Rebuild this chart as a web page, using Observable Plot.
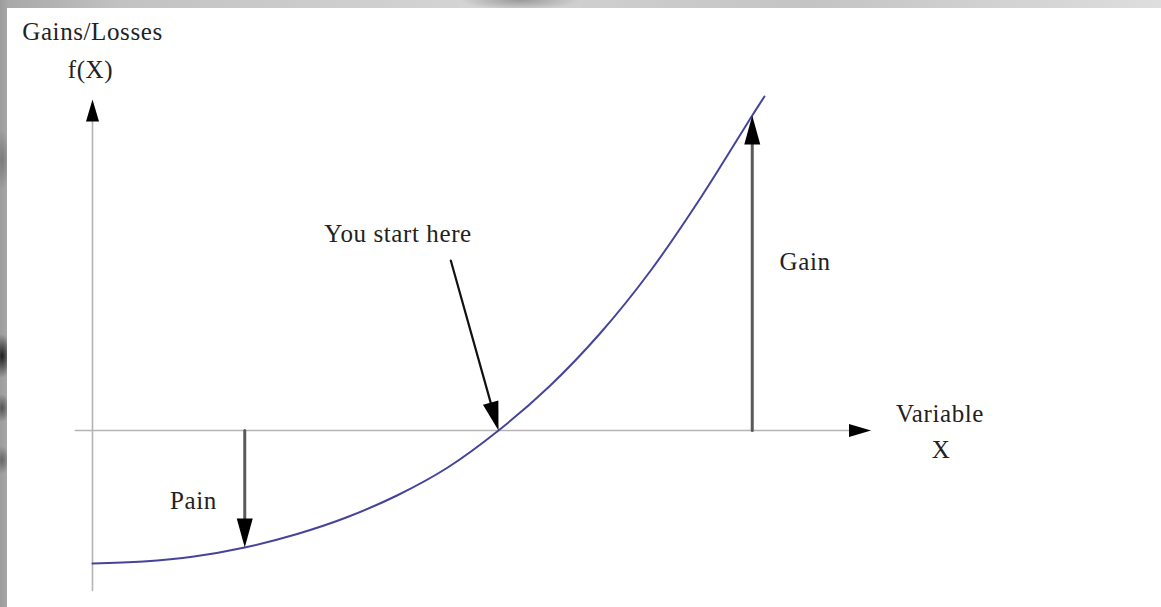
<!DOCTYPE html>
<html>
<head>
<meta charset="utf-8">
<script src="https://cdn.jsdelivr.net/npm/d3@7"></script>
<script src="https://cdn.jsdelivr.net/npm/@observablehq/plot@0.6"></script>
<style>
  html, body { margin: 0; padding: 0; }
  body {
    width: 1161px; height: 607px; overflow: hidden; position: relative;
    background:
      radial-gradient(ellipse 10px 22px at 2px 356px, #1e1e1e, rgba(30,30,30,0) 100%),
      radial-gradient(ellipse 8px 14px at 2px 408px, #555, rgba(80,80,80,0) 100%),
      radial-gradient(ellipse 8px 14px at 2px 460px, #666, rgba(90,90,90,0) 100%),
      radial-gradient(ellipse 8px 30px at 2px 160px, #7a7a7a, rgba(120,120,120,0) 100%),
      radial-gradient(ellipse 60px 10px at 520px 0px, #9a9a9a, rgba(150,150,150,0) 100%),
      linear-gradient(90deg, #9c9c9c 0px, #a8a8a8 8px, #c2c2c2 120px, #d4d4d4 40%, #c4c4c4 70%, #dedede);
  }
  #panel {
    position: absolute; left: 7px; top: 8px;
    width: 1154px; height: 599px; background: #ffffff;
  }
</style>
</head>
<body>
<div id="panel"></div>
<script>
// Gains/losses curve f(X) sampled along the variable X
const curveX = [0, 0.5, 1.0, 1.5, 2.0, 2.5, 3.0, 3.5, 4.0, 4.5, 5.0, 5.5, 6.0, 6.5, 6.62];
const curveY = [-1.33, -1.31, -1.26, -1.17, -1.04, -0.87, -0.65, -0.37, 0, 0.44, 0.97, 1.60, 2.34, 3.15, 3.34];

// Coordinate axes drawn as arrows (vertical f(X), horizontal X)
const axisName = ["f(X)", "X"];
const axisX1 = [0, -0.17];
const axisY1 = [-1.6, 0];
const axisX2 = [0, 7.67];
const axisY2 = [3.31, 0];

// Annotation arrows: loss at X = 1.5, gain at X = 6.5, starting point at X = 4
const noteName = ["Pain", "Gain", "You start here"];
const noteX1 = [1.5, 6.5, 3.53];
const noteY1 = [0, 0, 1.70];
const noteX2 = [1.5, 6.5, 4.0];
const noteY2 = [-1.17, 3.15, 0];
const noteColor = ["#5a5a5a", "#5a5a5a", "#111111"];
const noteWidth = [3, 3, 2.2];

// Text labels
const labelText = ["Gains/Losses", "f(X)", "You start here", "Gain", "Variable", "X", "Pain"];
const labelX = [0, -0.02, 3.01, 7.02, 8.35, 8.36, 0.995];
const labelY = [3.91, 3.53, 1.89, 1.61, 0.09, -0.27, -0.78];

const W = 1154, H = 599;
const xDomain = [0, 10], xRange = [85, 1100];
const yDomain = [0, 1], yRange = [422, 322];
const sx = d3.scaleLinear(xDomain, xRange);
const sy = d3.scaleLinear(yDomain, yRange);

const curve = curveX.map((x, i) => ({x, y: curveY[i]}));
const axes = axisName.map((name, i) => ({name, x1: axisX1[i], y1: axisY1[i], x2: axisX2[i], y2: axisY2[i]}));
const notes = noteName.map((name, i) => ({
  name, x1: noteX1[i], y1: noteY1[i], x2: noteX2[i], y2: noteY2[i],
  color: noteColor[i], width: noteWidth[i]
}));
const labels = labelText.map((text, i) => ({text, x: labelX[i], y: labelY[i]}));

// screen direction of an arrow, in degrees clockwise from up
const heading = (d) => {
  const dx = sx(d.x2) - sx(d.x1), dy = sy(d.y2) - sy(d.y1);
  return Math.atan2(dx, -dy) * 180 / Math.PI;
};

// filled triangular arrowhead, tip at the anchor point
const headShape = (len, half) => ({
  draw(context) {
    context.moveTo(0, 0);
    context.lineTo(-half, len);
    context.lineTo(half, len);
    context.closePath();
  }
});

const chart = Plot.plot({
  width: W,
  height: H,
  margin: 0,
  x: {domain: xDomain, range: xRange, axis: null},
  y: {domain: yDomain, range: yRange, axis: null},
  style: {fontFamily: "'Liberation Serif', 'Times New Roman', serif", letterSpacing: "0.6px", background: "#ffffff", color: "#222"},
  marks: [
    // axes
    Plot.arrow(axes, {x1: "x1", y1: "y1", x2: "x2", y2: "y2", stroke: "#b4b4b4", strokeWidth: 1.6, headLength: 0, insetEnd: 18}),
    Plot.vector(axes, {x: "x2", y: "y2", rotate: heading, length: 22, anchor: "start",
      shape: headShape(22, 6.5), fill: "#000", stroke: "none"}),
    // curve
    Plot.line(curve, {x: "x", y: "y", stroke: "#45449a", strokeWidth: 2, curve: "catmull-rom"}),
    // annotation arrows
    ...notes.map(d => Plot.arrow([d], {x1: "x1", y1: "y1", x2: "x2", y2: "y2",
      stroke: d.color, strokeWidth: d.width, headLength: 0, insetEnd: 24})),
    Plot.vector(notes, {x: "x2", y: "y2", rotate: heading, length: 29, anchor: "start",
      shape: headShape(29, 8), fill: "#000", stroke: "none"}),
    // labels
    Plot.text(labels, {x: "x", y: "y", text: "text", fontSize: 25, lineAnchor: "bottom",
      textAnchor: "middle", fill: "#222"})
  ]
});

document.getElementById("panel").appendChild(chart);
</script>
</body>
</html>
